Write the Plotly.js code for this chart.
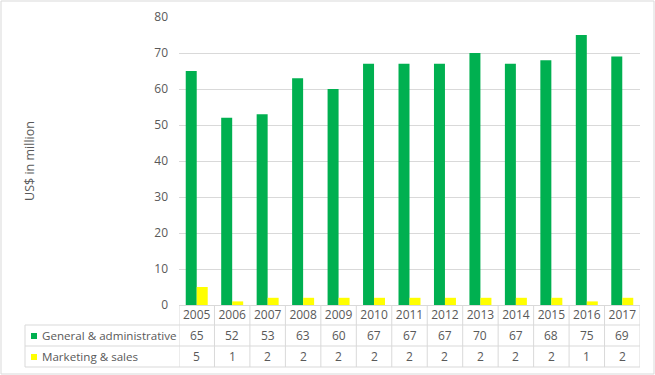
<!DOCTYPE html>
<html>
<head>
<meta charset="utf-8">
<script src="https://cdn.plot.ly/plotly-3.0.1.min.js"></script>
<style>html,body{margin:0;padding:0;background:#fff;}#chart{width:655px;height:375px;}</style>
</head>
<body>
<div id="chart"></div>
<script>
const years = [2005,2006,2007,2008,2009,2010,2011,2012,2013,2014,2015,2016,2017];
const generalAdmin = [65,52,53,63,60,67,67,67,70,67,68,75,69];
const marketingSales = [5,1,2,2,2,2,2,2,2,2,2,1,2];
const seriesNames = ["General & administrative","Marketing & sales"];
const seriesColors = ["#00B050","#FFFF00"];
const yTitle = "US$ in million";

const W = 655, H = 375, L = 179, R = 15, T = 17, B = 70;
const pw = W - L - R, ph = H - T - B;
const px2x = p => (p - L) / pw;
const py2y = p => (H - B - p) / ph;
const grid = "#D9D9D9";
const txt = "#595959";
const font = "Open Sans, sans-serif";

const rowTop = [325, 346];
const rowBot = 367;
const rowCenters = [335.5, 356.5];
const leftX = 25;

const traces = [
  {type:"bar", x: years, y: generalAdmin, name: seriesNames[0], marker:{color: seriesColors[0]}, hoverinfo:"skip"},
  {type:"bar", x: years, y: marketingSales, name: seriesNames[1], marker:{color: seriesColors[1]}, hoverinfo:"skip"}
];

const shapes = [];
const annotations = [];
// outer frame
shapes.push({type:"rect", xref:"paper", yref:"paper", x0:px2x(1), x1:px2x(654), y0:py2y(374), y1:py2y(1), line:{color:grid, width:1}});
// vertical lines at category boundaries
const x0 = years[0] - 0.5;
for (let i = 0; i <= years.length; i++) {
  shapes.push({type:"line", xref:"x", yref:"paper", x0:x0+i, x1:x0+i, y0:0, y1:py2y(rowBot), line:{color:grid, width:1}});
}
// left column vertical
shapes.push({type:"line", xref:"paper", yref:"paper", x0:px2x(leftX), x1:px2x(leftX), y0:py2y(rowTop[0]), y1:py2y(rowBot), line:{color:grid, width:1}});
// horizontal lines
[rowTop[0], rowTop[1], rowBot].forEach(p => {
  shapes.push({type:"line", xref:"paper", yref:"paper", x0:px2x(leftX), x1:1, y0:py2y(p), y1:py2y(p), line:{color:grid, width:1}});
});
// legend keys, labels and values
const seriesData = [generalAdmin, marketingSales];
seriesNames.forEach((n, k) => {
  const c = rowCenters[k];
  shapes.push({type:"rect", xref:"paper", yref:"paper", x0:px2x(31), x1:px2x(37), y0:py2y(c+3.5), y1:py2y(c-2.5), fillcolor:seriesColors[k], line:{width:0}});
  annotations.push({xref:"paper", yref:"paper", x:px2x(40), y:py2y(c), xanchor:"left", yanchor:"middle", text:n, showarrow:false, font:{family:font, size:11.6, color:txt}});
  seriesData[k].forEach((v, i) => {
    annotations.push({xref:"x", yref:"paper", x:years[i], y:py2y(c), xanchor:"center", yanchor:"middle", text:String(v), showarrow:false, font:{family:font, size:12, color:txt}});
  });
});

const layout = {
  width: W, height: H,
  margin: {l:L, r:R, t:T, b:B, pad:0},
  paper_bgcolor:"#fff", plot_bgcolor:"#fff",
  showlegend:false,
  barmode:"group", bargap:0.38, bargroupgap:0,
  font:{family:font, size:12, color:txt},
  xaxis:{type:"linear", range:[years[0]-0.5, years[years.length-1]+0.5], tickvals: years, ticktext: years.map(String),
         showgrid:false, zeroline:false, showline:true, linecolor:grid, linewidth:1,
         ticks:"", tickfont:{family:font, size:12, color:txt}, ticklabelstandoff:-1, fixedrange:true, automargin:false},
  yaxis:{range:[0,80], dtick:10, showgrid:true, gridcolor:grid, gridwidth:1, zeroline:false, showline:false, ticks:"",
         tickfont:{family:font, size:12, color:txt}, ticklabelstandoff:10, automargin:false,
         title:{text:yTitle, font:{family:font, size:12.5, color:txt}, standoff:116}},
  shapes: shapes,
  annotations: annotations
};
Plotly.newPlot("chart", traces, layout, {displayModeBar:false, staticPlot:true});
</script>
</body>
</html>
